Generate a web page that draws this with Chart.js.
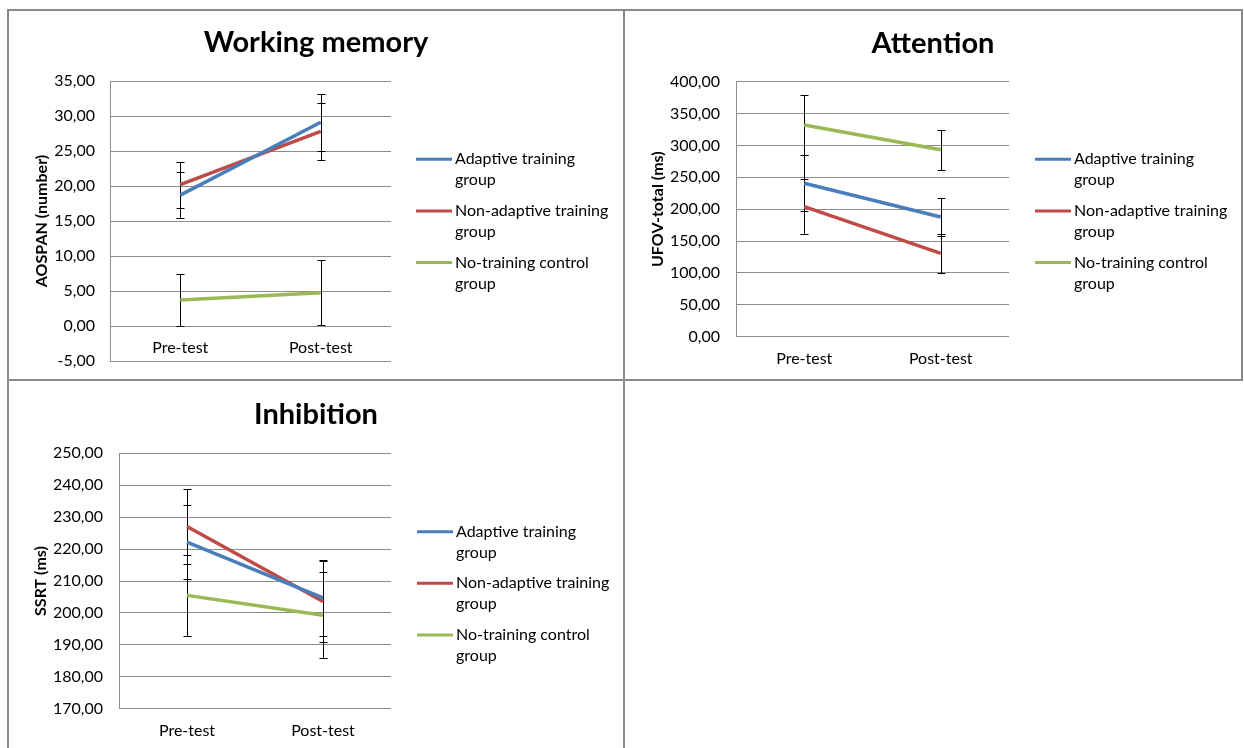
<!DOCTYPE html>
<html>
<head>
<meta charset="utf-8">
<script src="https://cdn.jsdelivr.net/npm/chart.js@4.4.0/dist/chart.umd.min.js"></script>
<style>
  html, body { margin: 0; padding: 0; background: #fff; }
  body { width: 1244px; height: 748px; position: relative; overflow: hidden; }
  .panel { position: absolute; }
  .panel canvas { display: block; }
  .rule { position: absolute; background: #8a8a8a; }
</style>
</head>
<body>
<div class="panel" style="left:8px;top:10px;width:616px;height:370px"><canvas id="wm" width="616" height="370"></canvas></div>
<div class="panel" style="left:624px;top:10px;width:618px;height:370px"><canvas id="att" width="618" height="370"></canvas></div>
<div class="panel" style="left:8px;top:380px;width:616px;height:368px"><canvas id="inh" width="616" height="368"></canvas></div>

<div class="rule" style="left:7px;top:9px;width:1236px;height:2px"></div>
<div class="rule" style="left:7px;top:379px;width:1236px;height:2px"></div>
<div class="rule" style="left:7px;top:9px;width:2px;height:739px"></div>
<div class="rule" style="left:623px;top:9px;width:2px;height:739px"></div>
<div class="rule" style="left:1241px;top:9px;width:2px;height:372px"></div>

<script>
// Measurement occasions
const timePoints = ['Pre-test', 'Post-test'];

// Group names, split the way they wrap in the legend
const adaptiveLabel = ['Adaptive training', 'group'];
const nonAdaptiveLabel = ['Non-adaptive training', 'group'];
const controlLabel = ['No-training control', 'group'];

// Working memory: AOSPAN (number), means and SD
const wmAdaptive = [18.7, 29.1];
const wmAdaptiveSD = [3.3, 4.1];
const wmNonAdaptive = [20.2, 27.8];
const wmNonAdaptiveSD = [3.3, 4.05];
const wmControl = [3.7, 4.76];
const wmControlSD = [3.7, 4.6];

// Attention: UFOV-total (ms), means and SD
const attAdaptive = [240.6, 187.8];
const attAdaptiveSD = [44, 30.5];
const attNonAdaptive = [204, 130.8];
const attNonAdaptiveSD = [43.5, 31];
const attControl = [332, 293.3];
const attControlSD = [47, 31.5];

// Inhibition: SSRT (ms), means and SD
const inhAdaptive = [222.2, 204.7];
const inhAdaptiveSD = [11.5, 12];
const inhNonAdaptive = [227.1, 203.6];
const inhNonAdaptiveSD = [11.7, 12.8];
const inhControl = [205.5, 199.3];
const inhControlSD = [12.6, 13.4];

const COLORS = { adaptive: '#4A7EBB', nonAdaptive: '#BE4B48', control: '#98B954' };
const GRID = '#8c8c8c';
const FONT = 'Lato, "Open Sans", sans-serif';

Chart.defaults.font.family = FONT;
Chart.defaults.color = '#000';

// Vertical SD whiskers with short caps, drawn beneath the lines
const errorBars = {
  id: 'errorBars',
  beforeDatasetsDraw(chart, args, opts) {
    const { ctx, scales: { x, y } } = chart;
    ctx.save();
    ctx.strokeStyle = opts.color;
    ctx.lineWidth = 1;
    chart.data.datasets.forEach(ds => {
      ds.data.forEach((v, i) => {
        const e = ds.errors[i];
        const px = Math.round(x.getPixelForValue(i)) + 0.5;
        const top = Math.round(y.getPixelForValue(v + e)) + 0.5;
        const bot = Math.round(y.getPixelForValue(v - e)) + 0.5;
        ctx.beginPath();
        ctx.moveTo(px, top); ctx.lineTo(px, bot);
        ctx.moveTo(px - opts.cap, top); ctx.lineTo(px + opts.cap, top);
        ctx.moveTo(px - opts.cap, bot); ctx.lineTo(px + opts.cap, bot);
        ctx.stroke();
      });
    });
    ctx.restore();
  }
};

// Panel heading centred over the whole canvas
const panelTitle = {
  id: 'panelTitle',
  afterDraw(chart, args, opts) {
    const ctx = chart.ctx;
    ctx.save();
    ctx.font = opts.font;
    ctx.fillStyle = '#000';
    ctx.textAlign = 'center';
    ctx.textBaseline = 'middle';
    ctx.fillText(opts.text, chart.width / 2, opts.y);
    ctx.restore();
  }
};

// Legend at the right of the plot, with wrapped group names
const sideLegend = {
  id: 'sideLegend',
  afterDraw(chart, args, opts) {
    const ctx = chart.ctx;
    const x0 = chart.chartArea.right + opts.offsetX;
    ctx.save();
    ctx.font = opts.font;
    ctx.fillStyle = '#000';
    ctx.textAlign = 'left';
    ctx.textBaseline = 'middle';
    chart.data.datasets.forEach((ds, i) => {
      const yy = opts.top + i * opts.itemGap;
      ctx.strokeStyle = ds.borderColor;
      ctx.lineWidth = 3;
      ctx.beginPath();
      ctx.moveTo(x0, yy);
      ctx.lineTo(x0 + opts.lineLength, yy);
      ctx.stroke();
      ds.legendLines.forEach((t, j) => {
        ctx.fillText(t, x0 + opts.lineLength + opts.textGap, yy + j * opts.lineGap);
      });
    });
    ctx.restore();
  }
};

const decimalComma = v => v.toFixed(2).replace('.', ',');

function series(label, data, errors, color) {
  return {
    label: label.join(' '),
    legendLines: label,
    data: data,
    errors: errors,
    borderColor: color,
    backgroundColor: color,
    borderWidth: 3.5,
    pointRadius: 0,
    pointHoverRadius: 0,
    tension: 0,
    fill: false
  };
}

function makePanel(id, p) {
  return new Chart(document.getElementById(id), {
    type: 'line',
    data: {
      labels: timePoints,
      datasets: p.datasets
    },
    options: {
      responsive: false,
      animation: false,
      events: [],
      layout: { padding: { left: 0, top: p.top, right: p.right, bottom: p.bottom } },
      scales: {
        x: {
          type: 'category',
          offset: true,
          position: { y: p.xAt },
          afterFit(scale) { scale.height = 0; },
          grid: { display: false, drawTicks: false },
          border: { display: false },
          ticks: { padding: 12.5, font: { size: 16 }, color: '#000', maxRotation: 0 }
        },
        y: {
          min: p.yMin,
          max: p.yMax,
          afterFit(scale) { scale.width = p.left; },
          // invisible tick marks hold the labels away from the axis line
          grid: { color: GRID, lineWidth: 1, drawTicks: true, tickLength: p.tickPad - 4, tickColor: 'rgba(0,0,0,0)' },
          border: { display: true, color: GRID, width: 1 },
          ticks: {
            stepSize: p.yStep,
            padding: 4,
            font: { size: 16 },
            color: '#000',
            callback: decimalComma
          },
          title: {
            display: true,
            text: p.yTitle,
            font: { size: 16, weight: 'bold' },
            color: '#000',
            padding: { top: p.yTitlePad, bottom: 0 }
          }
        }
      },
      plugins: {
        legend: { display: false },
        tooltip: { enabled: false },
        title: { display: false },
        errorBars: { color: '#000', cap: 4 },
        panelTitle: { text: p.title, font: 'bold 29px ' + FONT, y: p.titleY },
        sideLegend: {
          font: '16px ' + FONT,
          offsetX: p.legendX,
          top: p.legendTop,
          itemGap: 51.6,
          lineGap: 21,
          lineLength: 36,
          textGap: 3
        }
      }
    },
    plugins: [errorBars, panelTitle, sideLegend]
  });
}

makePanel('wm', {
  title: 'Working memory', titleY: 33,
  yTitle: 'AOSPAN (number)', yTitlePad: 24.4,
  yMin: -5, yMax: 35, yStep: 5, xAt: 0,
  left: 102, right: 233, top: 71, bottom: 19, tickPad: 15,
  legendX: 25, legendTop: 149.3,
  datasets: [
    series(adaptiveLabel, wmAdaptive, wmAdaptiveSD, COLORS.adaptive),
    series(nonAdaptiveLabel, wmNonAdaptive, wmNonAdaptiveSD, COLORS.nonAdaptive),
    series(controlLabel, wmControl, wmControlSD, COLORS.control)
  ]
});

makePanel('att', {
  title: 'Attention', titleY: 33.3,
  yTitle: 'UFOV-total (ms)', yTitlePad: 24.1,
  yMin: 0, yMax: 400, yStep: 50, xAt: 0,
  left: 112, right: 233, top: 71.7, bottom: 43.3, tickPad: 16,
  legendX: 26, legendTop: 149.3,
  datasets: [
    series(adaptiveLabel, attAdaptive, attAdaptiveSD, COLORS.adaptive),
    series(nonAdaptiveLabel, attNonAdaptive, attNonAdaptiveSD, COLORS.nonAdaptive),
    series(controlLabel, attControl, attControlSD, COLORS.control)
  ]
});

makePanel('inh', {
  title: 'Inhibition', titleY: 35,
  yTitle: 'SSRT (ms)', yTitlePad: 23.2,
  yMin: 170, yMax: 250, yStep: 10, xAt: 170,
  left: 111, right: 233, top: 73.3, bottom: 39.3, tickPad: 16,
  legendX: 26, legendTop: 151.7,
  datasets: [
    series(adaptiveLabel, inhAdaptive, inhAdaptiveSD, COLORS.adaptive),
    series(nonAdaptiveLabel, inhNonAdaptive, inhNonAdaptiveSD, COLORS.nonAdaptive),
    series(controlLabel, inhControl, inhControlSD, COLORS.control)
  ]
});
</script>
</body>
</html>
